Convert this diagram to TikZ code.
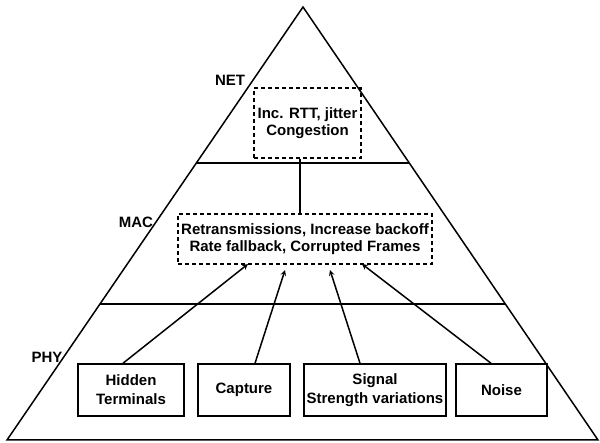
\documentclass[tikz,border=0pt]{standalone}
\usepackage{fontspec}
\setmainfont{Liberation Sans}
\usepackage{tikz}
\usetikzlibrary{arrows,shapes,calc}
\tikzstyle{layer}=[font=\fontsize{15}{18}\selectfont\bfseries,inner sep=0pt]
\tikzstyle{cause}=[draw,line width=1.5pt,minimum height=52pt,inner sep=0pt,align=center,font=\fontsize{15}{19}\selectfont\bfseries]
\tikzstyle{effect}=[draw,line width=1.5pt,dash pattern=on 4pt off 3pt,inner sep=0pt,align=center,font=\fontsize{15}{17}\selectfont\bfseries]
\tikzstyle{edge} = [draw,line width=1.5pt,-stealth]
\tikzstyle{wall} = [draw,line width=1.5pt,-]

\begin{document}
\begin{tikzpicture}[x=1pt,y=-1pt]
        \useasboundingbox (0,0) rectangle (600,443);
        % pyramid and layer borders
        \coordinate (top) at (303,7);
        \coordinate (bl) at (7,440);
        \coordinate (br) at (598,440);
        \draw[wall] (top) -- (bl) -- (br) -- cycle;
        \coordinate (netl) at ($(top)!0.36!(bl)$);
        \coordinate (netr) at ($(top)!0.36!(br)$);
        \coordinate (macl) at ($(top)!0.686!(bl)$);
        \coordinate (macr) at ($(top)!0.686!(br)$);
        \draw[wall] (netl) -- (netr);
        \draw[wall] (macl) -- (macr);
        % layer names
        \node[layer] (netname) at (230,80) {NET};
        \node[layer] (macname) at (136,222) {MAC};
        \node[layer] (phyname) at (47,357) {PHY};
        % effects
        \node[effect,minimum width=107pt,minimum height=70pt] (net) at (307.5,123) {Inc. RTT, jitter\\Congestion};
        \node[effect,minimum width=254pt,minimum height=50pt] (mac) at (305,239) {Retransmissions, Increase backoff\\Rate fallback, Corrupted Frames};
        % causes
        \node[cause,minimum width=106pt] (hidden) at (131,390) {Hidden\\Terminals};
        \node[cause,minimum width=92pt] (capture) at (244,390) {Capture};
        \node[cause,minimum width=142pt] (signal) at (375,390) {Signal\\Strength variations};
        \node[cause,minimum width=91pt] (noise) at (501.5,390) {Noise};
        \coordinate (m1) at (248,264);
        \coordinate (m2) at (285,270);
        \coordinate (m3) at (330,270);
        \coordinate (m4) at (362,264);
        \draw[wall] ([xshift=-7.5pt]net.south) -- ([xshift=-7.5pt]net.south |- mac.north);
        \draw[edge] ([xshift=-8pt]hidden.north) to (m1);
        \draw[edge] ([xshift=11pt]capture.north) to (m2);
        \draw[edge] ([xshift=-15pt]signal.north) to (m3);
        \draw[edge] ([xshift=-10.5pt]noise.north) to (m4);
      \end{tikzpicture}
\end{document}
